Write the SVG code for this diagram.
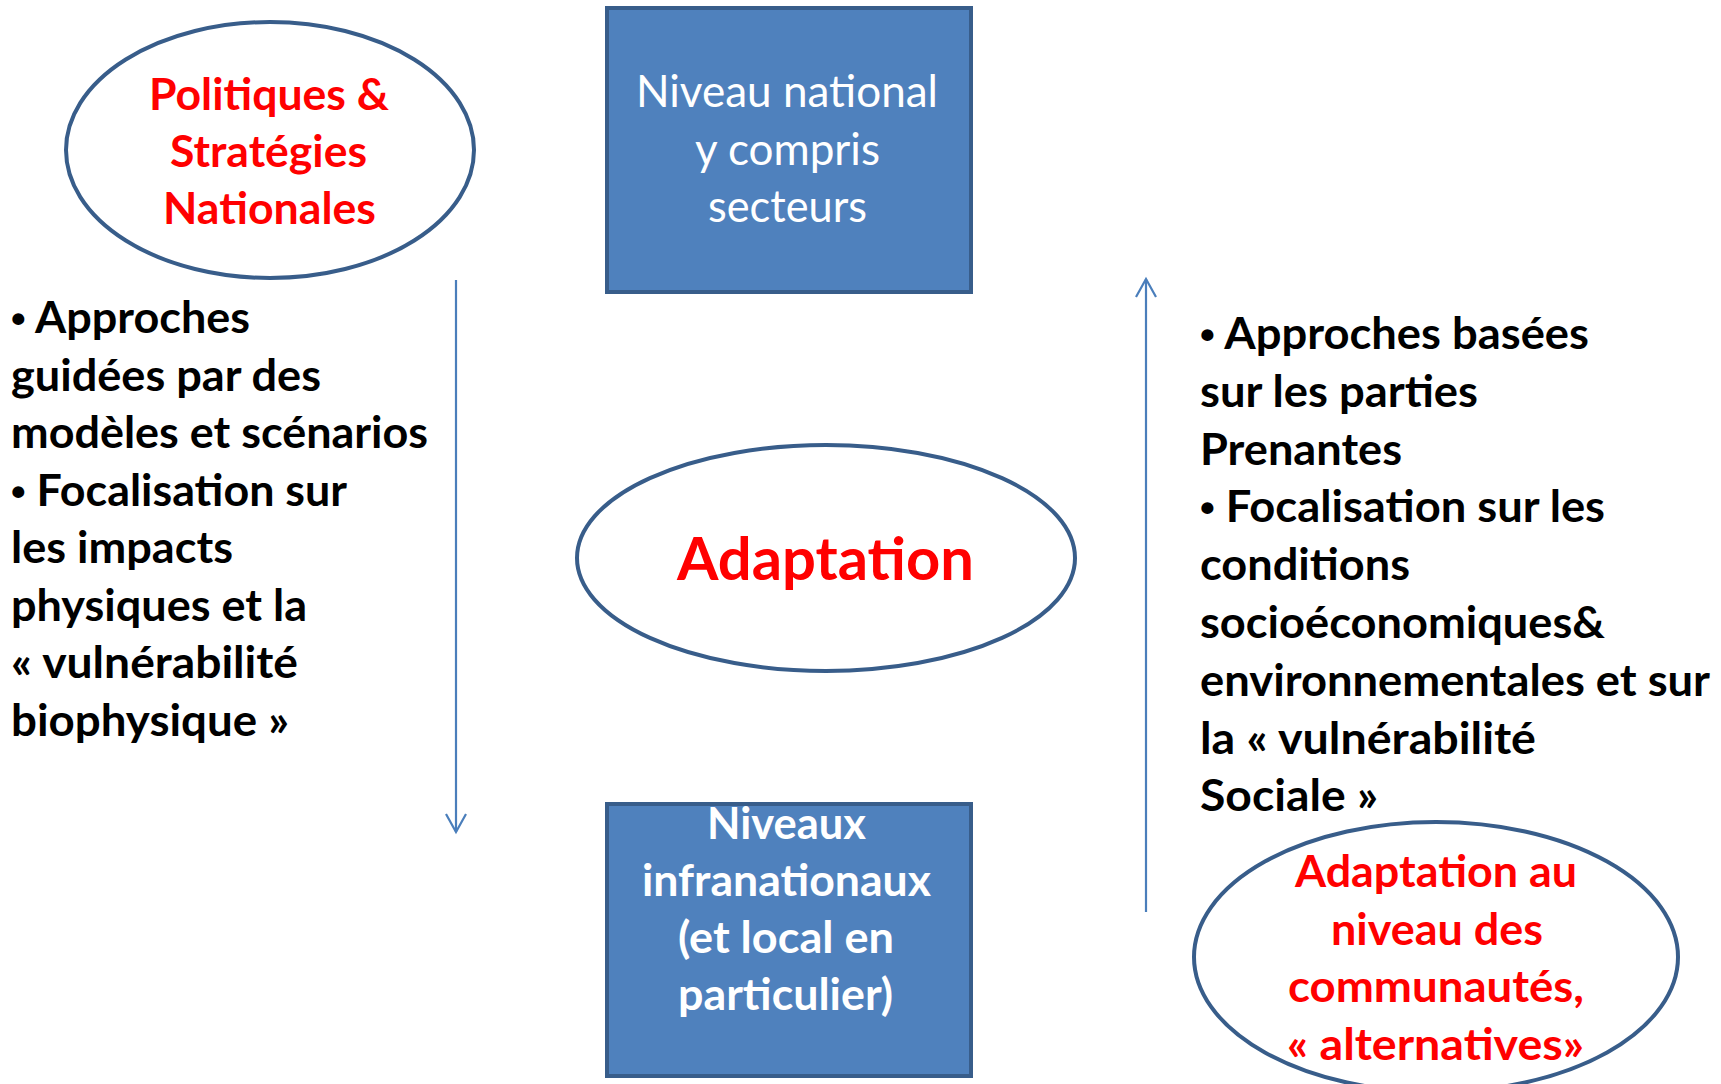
<svg xmlns="http://www.w3.org/2000/svg" width="1721" height="1084" viewBox="0 0 1721 1084">
<style>
.ell{fill:#FFFFFF;stroke:#385D8A;stroke-width:4}
.box{fill:#4F81BD;stroke:#385D8A;stroke-width:4}
.red{fill:#FF0000;font-family:Lato,"Open Sans","Liberation Sans",sans-serif;font-weight:bold;font-size:44px}
.wr{fill:#FFFFFF;font-family:Lato,"Open Sans","Liberation Sans",sans-serif;font-size:44px}
.wb{fill:#FFFFFF;font-family:Lato,"Open Sans","Liberation Sans",sans-serif;font-weight:bold;font-size:44px}
.blk{fill:#000000;font-family:Lato,"Open Sans","Liberation Sans",sans-serif;font-weight:bold;font-size:43px}
.bul{font-family:"Liberation Sans",sans-serif;font-size:40px}
.big{fill:#FF0000;font-family:Lato,"Open Sans","Liberation Sans",sans-serif;font-weight:bold;font-size:60px}
.conn{stroke:#4A7EBB;stroke-width:2.2;fill:none}
</style>
<defs>
<marker id="arr" viewBox="0 0 24 24" refX="21" refY="12" markerWidth="24" markerHeight="24" markerUnits="userSpaceOnUse" orient="auto">
<path d="M3,2 L21,12 L3,22" fill="none" stroke="#4A7EBB" stroke-width="2.2"/>
</marker>
</defs>
<rect width="1721" height="1084" fill="#FFFFFF"/>
<g id="connectors">
<line class="conn" x1="456" y1="280" x2="456" y2="832" marker-end="url(#arr)"/>
<line class="conn" x1="1146" y1="912" x2="1146" y2="279" marker-end="url(#arr)"/>
</g>
<g id="politiques">
<ellipse class="ell" cx="270" cy="150" rx="204" ry="128"/>
<text class="red" x="149" y="110" textLength="240" lengthAdjust="spacingAndGlyphs">Politiques &amp;</text>
<text class="red" x="170" y="167" textLength="197" lengthAdjust="spacingAndGlyphs">Stratégies</text>
<text class="red" x="163" y="224" textLength="213" lengthAdjust="spacingAndGlyphs">Nationales</text>
</g>
<g id="national">
<rect class="box" x="607" y="8" width="364" height="284"/>
<text class="wr" x="636" y="107" textLength="302" lengthAdjust="spacingAndGlyphs">Niveau national</text>
<text class="wr" x="695" y="165" textLength="185" lengthAdjust="spacingAndGlyphs">y compris</text>
<text class="wr" x="708" y="222" textLength="159" lengthAdjust="spacingAndGlyphs">secteurs</text>
</g>
<g id="left-text">
<text class="blk" x="11" y="333" textLength="239" lengthAdjust="spacingAndGlyphs"><tspan class="bul">•</tspan> Approches</text>
<text class="blk" x="11" y="390.5" textLength="310" lengthAdjust="spacingAndGlyphs">guidées par des</text>
<text class="blk" x="11" y="448" textLength="417" lengthAdjust="spacingAndGlyphs">modèles et scénarios</text>
<text class="blk" x="11" y="505.5" textLength="336" lengthAdjust="spacingAndGlyphs"><tspan class="bul">•</tspan> Focalisation sur</text>
<text class="blk" x="11" y="563" textLength="222" lengthAdjust="spacingAndGlyphs">les impacts</text>
<text class="blk" x="11" y="620.5" textLength="296" lengthAdjust="spacingAndGlyphs">physiques et la</text>
<text class="blk" x="11" y="678" textLength="287" lengthAdjust="spacingAndGlyphs">« vulnérabilité</text>
<text class="blk" x="11" y="735.5" textLength="278" lengthAdjust="spacingAndGlyphs">biophysique »</text>
</g>
<g id="adaptation">
<ellipse class="ell" cx="826" cy="558" rx="249" ry="113"/>
<text class="big" x="677" y="580" textLength="297" lengthAdjust="spacingAndGlyphs">Adaptation</text>
</g>
<g id="infranational">
<rect class="box" x="607" y="804" width="364" height="272"/>
<text class="wb" x="707" y="839" textLength="159" lengthAdjust="spacingAndGlyphs">Niveaux</text>
<text class="wb" x="642" y="896" textLength="289" lengthAdjust="spacingAndGlyphs">infranationaux</text>
<text class="wb" x="678" y="953" textLength="216" lengthAdjust="spacingAndGlyphs">(et local en</text>
<text class="wb" x="678" y="1010" textLength="215" lengthAdjust="spacingAndGlyphs">particulier)</text>
</g>
<g id="right-text">
<text class="blk" x="1200" y="349" textLength="389" lengthAdjust="spacingAndGlyphs"><tspan class="bul">•</tspan> Approches basées</text>
<text class="blk" x="1200" y="406.8" textLength="278" lengthAdjust="spacingAndGlyphs">sur les parties</text>
<text class="blk" x="1200" y="464.6" textLength="202" lengthAdjust="spacingAndGlyphs">Prenantes</text>
<text class="blk" x="1200" y="522.4" textLength="405" lengthAdjust="spacingAndGlyphs"><tspan class="bul">•</tspan> Focalisation sur les</text>
<text class="blk" x="1200" y="580.2" textLength="210" lengthAdjust="spacingAndGlyphs">conditions</text>
<text class="blk" x="1200" y="638" textLength="405" lengthAdjust="spacingAndGlyphs">socioéconomiques&amp;</text>
<text class="blk" x="1200" y="695.8" textLength="510" lengthAdjust="spacingAndGlyphs">environnementales et sur</text>
<text class="blk" x="1200" y="753.6" textLength="336" lengthAdjust="spacingAndGlyphs">la « vulnérabilité</text>
<text class="blk" x="1200" y="811.4" textLength="178" lengthAdjust="spacingAndGlyphs">Sociale »</text>
</g>
<g id="communautes">
<ellipse class="ell" cx="1436" cy="957" rx="242" ry="135"/>
<text class="red" x="1295" y="887" textLength="282" lengthAdjust="spacingAndGlyphs">Adaptation au</text>
<text class="red" x="1331" y="944.5" textLength="212" lengthAdjust="spacingAndGlyphs">niveau des</text>
<text class="red" x="1288" y="1002" textLength="296" lengthAdjust="spacingAndGlyphs">communautés,</text>
<text class="red" x="1287" y="1059.5" textLength="297" lengthAdjust="spacingAndGlyphs">« alternatives»</text>
</g>
</svg>
